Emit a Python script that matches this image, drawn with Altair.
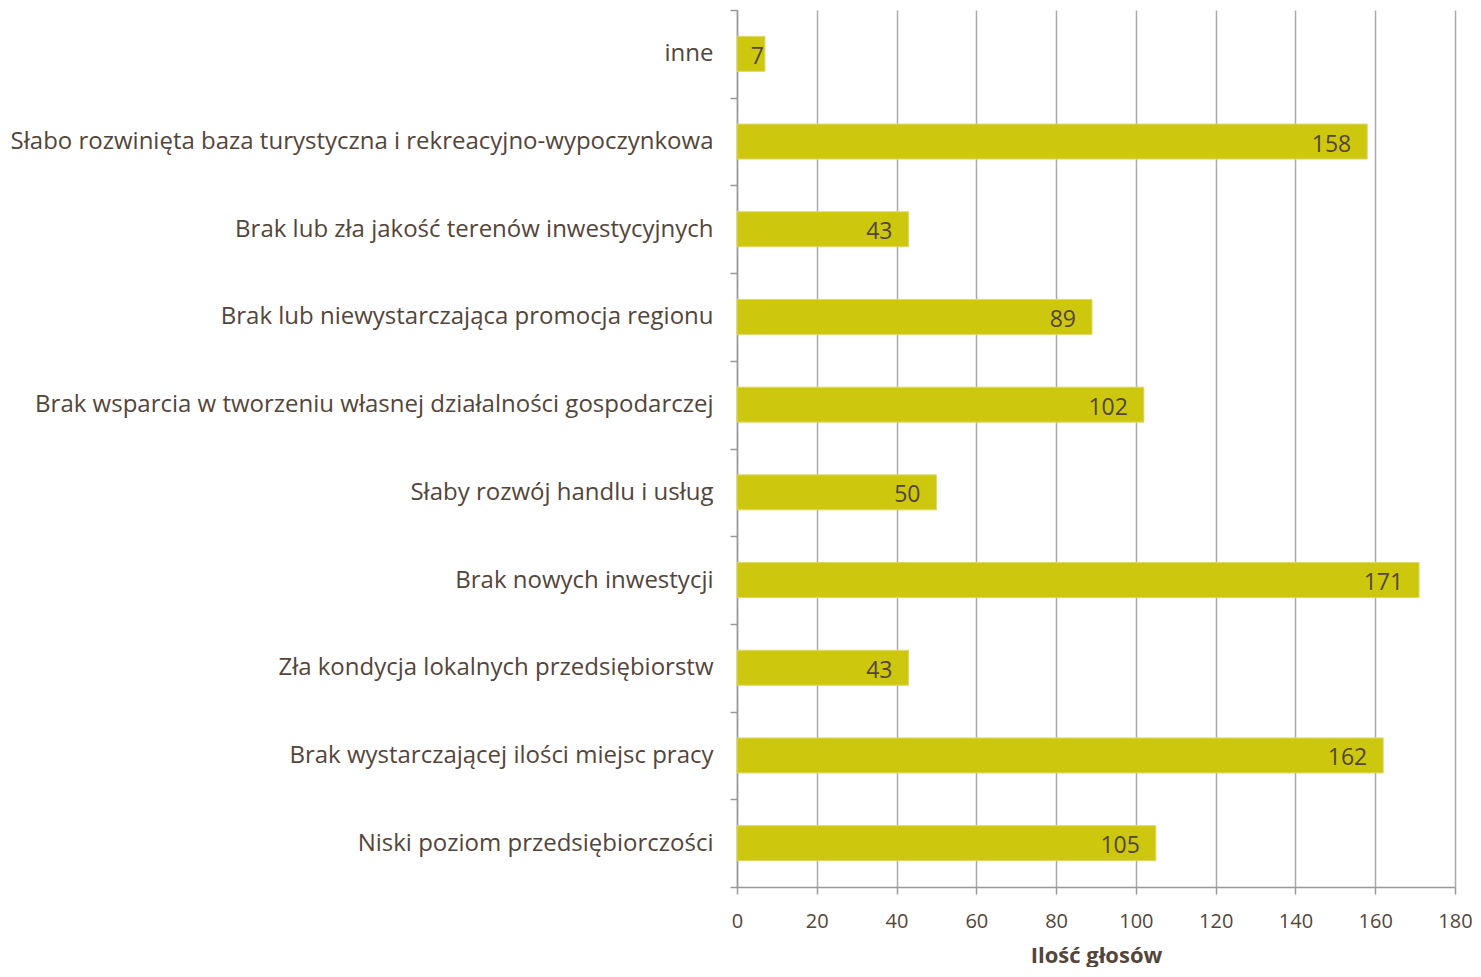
import altair as alt
import pandas as pd

categories = [
    "inne",
    "Słabo rozwinięta baza turystyczna i rekreacyjno-wypoczynkowa",
    "Brak lub zła jakość terenów inwestycyjnych",
    "Brak lub niewystarczająca promocja regionu",
    "Brak wsparcia w tworzeniu własnej działalności gospodarczej",
    "Słaby rozwój handlu i usług",
    "Brak nowych inwestycji",
    "Zła kondycja lokalnych przedsiębiorstw",
    "Brak wystarczającej ilości miejsc pracy",
    "Niski poziom przedsiębiorczości",
]
votes = [7, 158, 43, 89, 102, 50, 171, 43, 162, 105]
x_ticks = [0, 20, 40, 60, 80, 100, 120, 140, 160, 180]

df = pd.DataFrame({"kat": categories, "glosy": votes})

TEXT = "#54453a"
BAR = "#cdc80e"
FONT = "Open Sans"

y_enc = alt.Y(
    "kat:N",
    sort=categories,
    title=None,
    scale=alt.Scale(paddingInner=0, paddingOuter=0),
    axis=alt.Axis(
        tickBand="extent",
        tickSize=7,
        tickColor="#999999",
        tickWidth=1.5,
        domainColor="#999999",
        domainWidth=1.5,
        labelPadding=17,
        labelFontSize=24,
        labelFont=FONT,
        labelColor=TEXT,
        labelLimit=800,
        grid=False,
    ),
)

x_enc = alt.X(
    "glosy:Q",
    title="Ilość głosów",
    scale=alt.Scale(domain=[0, 180], nice=False),
    axis=alt.Axis(
        values=x_ticks,
        tickSize=7,
        tickColor="#999999",
        tickWidth=1.5,
        domain=True,
        domainColor="#999999",
        domainWidth=1.5,
        gridColor="#aaaaaa",
        gridWidth=1.5,
        labelFontSize=20,
        labelFont=FONT,
        labelColor=TEXT,
        labelPadding=17,
        labelFlush=False,
        titleFontSize=22,
        titleFont=FONT,
        titleFontWeight="bold",
        titleColor=TEXT,
        titlePadding=14,
    ),
)

bars = alt.Chart(df).mark_bar(
    color=BAR, stroke="#dcd86a", strokeWidth=1, height=35
).encode(x=x_enc, y=y_enc)

text_enc = dict(
    x=alt.X("glosy:Q"),
    y=alt.Y("kat:N", sort=categories),
    text="glosy:Q",
)

labels_big = alt.Chart(df).transform_filter("datum.glosy >= 20").mark_text(
    align="right", baseline="middle", dx=-16, dy=3, fontSize=23, font=FONT, color=TEXT
).encode(**text_enc)

labels_small = alt.Chart(df).transform_filter("datum.glosy < 20").mark_text(
    align="right", baseline="middle", dx=-1, dy=3, fontSize=23, font=FONT, color=TEXT
).encode(**text_enc)

chart = (
    alt.layer(bars, labels_big, labels_small)
    .properties(
        width=718,
        height=877,
        autosize=alt.AutoSizeParams(type="none"),
        padding={"left": 729, "top": 2, "right": 18, "bottom": 80},
    )
    .configure_view(stroke=None)
)

chart.save("out.html", embed_options={"renderer": "svg", "actions": False})
